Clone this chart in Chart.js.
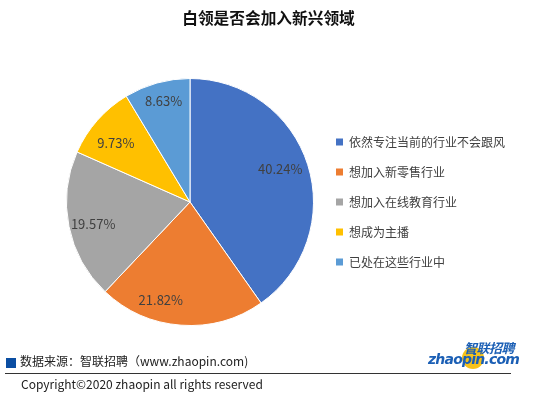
<!DOCTYPE html>
<html><head><meta charset="utf-8">
<script src="https://cdn.jsdelivr.net/npm/chart.js@4"></script>
<style>
html,body{margin:0;padding:0;background:#fff;}
body{width:537px;height:395px;position:relative;overflow:hidden;font-family:"Noto Sans CJK SC","Noto Sans",sans-serif;}
#wrap{position:absolute;left:0;top:0;width:537px;height:395px;}
.t{position:absolute;white-space:nowrap;}
#title{left:0;width:537px;top:6px;text-align:center;font-size:15.7px;font-weight:bold;color:#111;}
#src{left:20px;top:352px;font-size:12px;color:#222;}
#sq{position:absolute;left:6px;top:358px;width:10px;height:10px;background:#0b4ea2;}
#line{position:absolute;left:5px;top:373px;width:506px;height:1px;background:#333;}
#copy{left:21px;top:375px;font-size:12px;color:#222;}
#logo1{left:464px;top:338px;font-size:13px;font-weight:bold;font-style:italic;color:#1b5fb5;letter-spacing:-0.5px;}
#logo2{left:428px;top:351px;font-size:14px;font-weight:900;font-style:italic;color:#1b5fb5;font-family:"DejaVu Sans",sans-serif;letter-spacing:-0.8px;}
#dot{position:absolute;left:462px;top:347px;width:22px;height:22px;border-radius:50%;background:#f6c21b;}
</style></head>
<body>
<div id="wrap"><canvas id="c" width="537" height="395"></canvas></div>
<div class="t" id="title">白领是否会加入新兴领域</div>
<div id="sq"></div>
<div class="t" id="src">数据来源：智联招聘（www.zhaopin.com)</div>
<div id="line"></div>
<div class="t" id="copy">Copyright©2020 zhaopin all rights reserved</div>
<div id="dot"></div>
<div class="t" id="logo1">智联招聘</div>
<div class="t" id="logo2">zhaopin.com</div>
<script>
const categories = ["依然专注当前的行业不会跟风","想加入新零售行业","想加入在线教育行业","想成为主播","已处在这些行业中"];
const values = [40.24, 21.82, 19.57, 9.73, 8.63];
const colors = ["#4472C4","#ED7D31","#A5A5A5","#FFC000","#5B9BD5"];

const labelPlugin = {
  id:'sliceLabels',
  afterDatasetsDraw(chart){
    const ctx = chart.ctx;
    const meta = chart.getDatasetMeta(0);
    const shifts = [[-4,-3],[-22,0],[0,3],[0,6],[0,-6]];
    ctx.save();
    ctx.font = '13px "Noto Sans CJK SC", sans-serif';
    ctx.fillStyle = '#404040';
    ctx.textAlign = 'center';
    ctx.textBaseline = 'middle';
    meta.data.forEach((arc,i)=>{
      const p = arc.getProps(['x','y','startAngle','endAngle','outerRadius'],true);
      const mid = (p.startAngle+p.endAngle)/2;
      const r = p.outerRadius*0.8;
      const x = p.x + Math.cos(mid)*r + shifts[i][0];
      const y = p.y + Math.sin(mid)*r + shifts[i][1];
      ctx.fillText(values[i].toFixed(2)+'%', x, y);
    });
    ctx.restore();
  }
};
const legendPlugin = {
  id:'sideLegend',
  afterDraw(chart){
    const ctx = chart.ctx;
    ctx.save();
    ctx.font = '12px "Noto Sans CJK SC", sans-serif';
    ctx.textBaseline = 'middle';
    ctx.textAlign = 'left';
    categories.forEach((c,i)=>{
      const y = 142 + i*30;
      ctx.fillStyle = colors[i];
      ctx.fillRect(336, y-3.5, 7, 7);
      ctx.fillStyle = '#404040';
      ctx.fillText(c, 349, y);
    });
    ctx.restore();
  }
};
new Chart(document.getElementById('c'),{
  type:'pie',
  data:{labels:categories,datasets:[{data:values,backgroundColor:colors,borderColor:'#fff',borderWidth:1}]},
  options:{
    responsive:false,animation:false,
    layout:{padding:{left:66,right:223,top:78,bottom:69}},
    plugins:{legend:{display:false},tooltip:{enabled:false}}
  },
  plugins:[labelPlugin,legendPlugin]
});
</script>
</body></html>
